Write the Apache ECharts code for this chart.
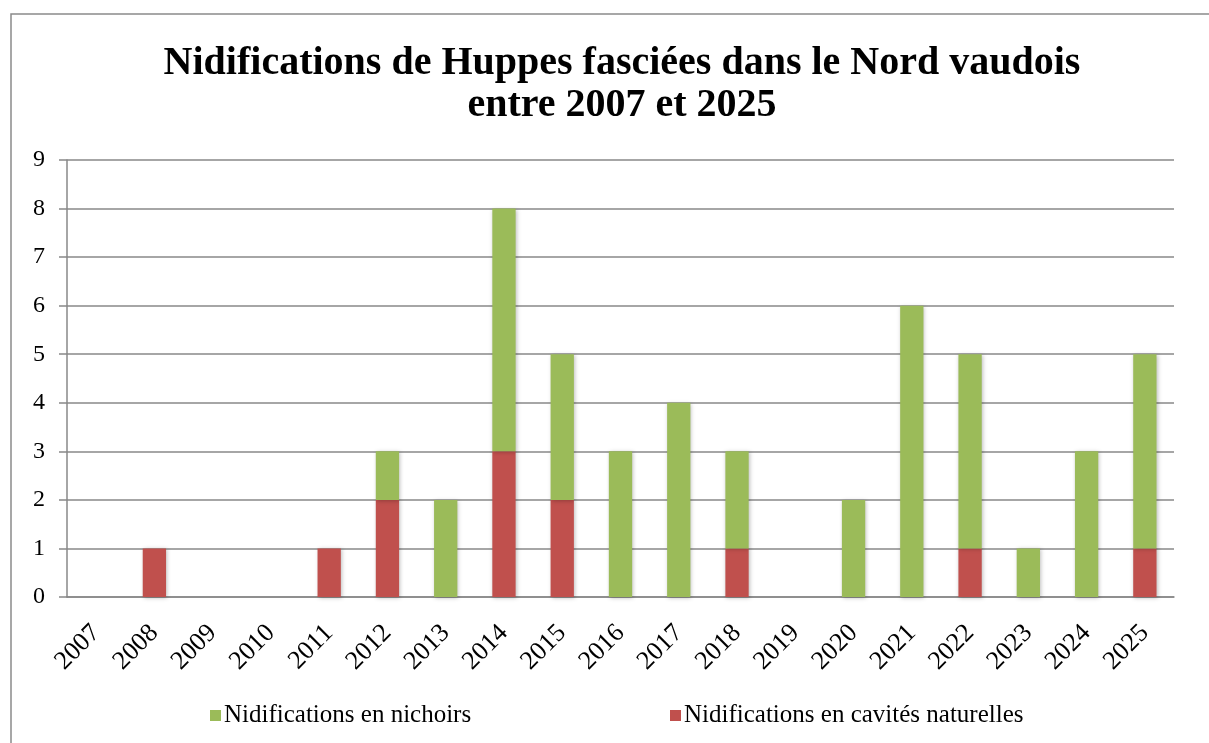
<!DOCTYPE html>
<html>
<head>
<meta charset="utf-8">
<script src="https://cdn.jsdelivr.net/npm/echarts@6/dist/echarts.min.js"></script>
<style>
  html, body { margin: 0; padding: 0; background: #fff; }
  #chart { width: 1209px; height: 743px; }
</style>
</head>
<body>
<div id="chart"></div>
<script>
const years = ['2007', '2008', '2009', '2010', '2011', '2012', '2013', '2014', '2015', '2016',
  '2017', '2018', '2019', '2020', '2021', '2022', '2023', '2024', '2025']
// nests in natural cavities (bottom of stack)
const cavites = [0, 1, 0, 0, 1, 2, 0, 3, 2, 0, 0, 1, 0, 0, 0, 1, 0, 0, 1]
// nests in nest boxes (top of stack)
const nichoirs = [0, 0, 0, 0, 0, 1, 2, 5, 3, 3, 4, 2, 0, 2, 6, 4, 1, 3, 4]
const yTicks = { min: 0, max: 9, interval: 1 }

const serif = '"Liberation Serif", "DejaVu Serif", serif'
const barShadow = {
  shadowBlur: 4,
  shadowColor: 'rgba(0,0,0,0.25)',
  shadowOffsetX: 1,
  shadowOffsetY: 1,
}
const legendBase = {
  bottom: 10,
  itemWidth: 11,
  itemHeight: 11,
  icon: 'rect',
  textStyle: { fontFamily: serif, fontSize: 25, color: '#000', padding: [0, 0, 0, -2] },
}

const chart = echarts.init(document.getElementById('chart'))

chart.setOption({
  animation: false,
  textStyle: { fontFamily: serif },
  title: {
    text: 'Nidifications de Huppes fasciées dans le Nord vaudois\nentre 2007 et 2025',
    left: 617,
    textAlign: 'center',
    top: 38,
    textStyle: {
      fontFamily: serif,
      fontWeight: 'bold',
      fontSize: 40,
      lineHeight: 42,
      color: '#000',
    },
  },
  graphic: [
    {
      type: 'rect',
      shape: { x: 11, y: 14, width: 1230, height: 800 },
      style: { fill: 'none', stroke: '#8a8a8a', lineWidth: 1.5 },
      silent: true,
    },
  ],
  legend: [
    Object.assign({ left: 205, data: ['Nidifications en nichoirs'] }, legendBase),
    Object.assign({ left: 665, data: ['Nidifications en cavités naturelles'] }, legendBase),
  ],
  grid: {
    left: 67,
    right: 35,
    top: 160,
    bottom: 146,
  },
  xAxis: {
    type: 'category',
    data: years,
    axisLine: { lineStyle: { color: '#888', width: 1.5 } },
    axisTick: { length: 7, lineStyle: { color: '#888', width: 1.5 } },
    axisLabel: {
      rotate: 45,
      margin: 32,
      fontSize: 26,
      color: '#000',
      fontFamily: serif,
    },
  },
  yAxis: {
    type: 'value',
    min: yTicks.min,
    max: yTicks.max,
    interval: yTicks.interval,
    axisLine: { show: true, lineStyle: { color: '#888', width: 1.5 } },
    axisTick: { show: true, length: 8, lineStyle: { color: '#888', width: 1.5 } },
    axisLabel: { fontSize: 24, color: '#000', margin: 22, fontFamily: serif },
    splitLine: { lineStyle: { color: '#888', width: 1.5 } },
  },
  series: [
    {
      name: 'Nidifications en cavités naturelles',
      type: 'bar',
      stack: 'total',
      barWidth: '40%',
      itemStyle: Object.assign({ color: '#C0504D' }, barShadow),
      data: cavites,
    },
    {
      name: 'Nidifications en nichoirs',
      type: 'bar',
      stack: 'total',
      barWidth: '40%',
      itemStyle: Object.assign({ color: '#9BBB59' }, barShadow),
      data: nichoirs,
    },
  ],
})
</script>
</body>
</html>
